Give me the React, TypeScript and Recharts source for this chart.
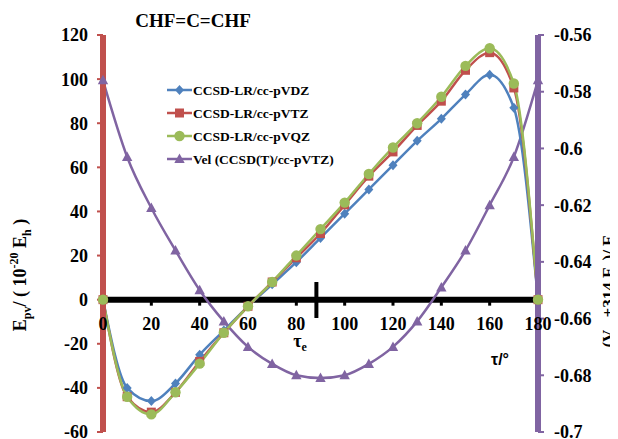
import React from 'react';
import { LineChart, Line, XAxis, YAxis, ReferenceLine, ReferenceDot } from 'recharts';

const tau = [0, 10, 20, 30, 40, 50, 60, 70, 80, 90, 100, 110, 120, 130, 140, 150, 160, 170, 180];
const vdz = [0, -40, -46, -38, -25, -14, -3, 7, 17, 28, 39, 50, 61, 72, 82, 93, 102, 87, 0];
const vtz = [0, -44, -51, -42, -28, -15, -3, 8, 19, 30, 43, 56, 67, 79, 90, 104, 112, 96, 0];
const vqz = [0, -44, -52, -42, -29, -15, -3, 8, 20, 32, 44, 57, 69, 80, 92, 106, 114, 98, 0];
const vel = [-0.576, -0.603, -0.621, -0.636, -0.65, -0.661, -0.67, -0.676, -0.68, -0.681, -0.68, -0.676, -0.67, -0.661, -0.649, -0.636, -0.62, -0.603, -0.576];

const seriesNames = ['CCSD-LR/cc-pVDZ', 'CCSD-LR/cc-pVTZ', 'CCSD-LR/cc-pVQZ', 'Vel (CCSD(T)/cc-pVTZ)'];
const seriesKeys = ['vdz', 'vtz', 'vqz', 'vel'];
const seriesColors = ['#4F81BD', '#C0504D', '#9BBB59', '#8064A2'];
const seriesMarkers = ['diamond', 'square', 'circle', 'triangle'];

const leftTicks = [-60, -40, -20, 0, 20, 40, 60, 80, 100, 120];
const rightTicks = [-0.7, -0.68, -0.66, -0.64, -0.62, -0.6, -0.58, -0.56];
const xTicks = [0, 20, 40, 60, 80, 100, 120, 140, 160, 180];
const tauE = 88.3;

const data = tau.map((t, i) => ({ tau: t, vdz: vdz[i], vtz: vtz[i], vqz: vqz[i], vel: vel[i] }));

const SERIF = 'Liberation Serif, Times New Roman, serif';
const SANS = 'Liberation Sans, Arial, sans-serif';

function Marker({ kind, cx, cy, color }: { kind: string; cx: number; cy: number; color: string }) {
  if (cx == null || cy == null || isNaN(cx) || isNaN(cy)) return null;
  if (kind === 'diamond') {
    return <path d={`M${cx},${cy - 5}L${cx + 4.5},${cy}L${cx},${cy + 5}L${cx - 4.5},${cy}Z`} fill={color} />;
  }
  if (kind === 'square') {
    return <rect x={cx - 4.5} y={cy - 4.5} width={9} height={9} fill={color} />;
  }
  if (kind === 'circle') {
    return <circle cx={cx} cy={cy} r={5.2} fill={color} />;
  }
  return <path d={`M${cx},${cy - 5.5}L${cx + 5.2},${cy + 4}L${cx - 5.2},${cy + 4}Z`} fill={color} />;
}

const fmtRight = (v: number) => String(Number(v.toFixed(2)));

export default function App() {
  const order = [3, 0, 1, 2];
  return (
    <div style={{ position: 'relative', width: 610, height: 431 }}>
      <LineChart width={610} height={431} data={data} margin={{ top: 27, right: 10, bottom: 7, left: 35 }}>
        <XAxis type="number" dataKey="tau" domain={[0, 180]} ticks={xTicks} hide />
        <YAxis
          yAxisId="left"
          orientation="left"
          width={60}
          domain={[-60, 120]}
          ticks={leftTicks}
          interval={0}
          axisLine={{ stroke: '#C0504D', strokeWidth: 6 }}
          tickLine={{ stroke: '#C0504D', strokeWidth: 2 }}
          tickSize={6}
          tickMargin={9}
          tick={{ fill: '#000', fontSize: 18, fontWeight: 'bold', fontFamily: SERIF }}
        />
        <YAxis
          yAxisId="right"
          orientation="right"
          width={70}
          domain={[-0.7, -0.56]}
          ticks={rightTicks}
          interval={0}
          tickFormatter={fmtRight}
          axisLine={{ stroke: '#8064A2', strokeWidth: 6 }}
          tickLine={{ stroke: '#8064A2', strokeWidth: 2 }}
          tickSize={6}
          tickMargin={10}
          tick={{ fill: '#000', fontSize: 18, fontWeight: 'bold', fontFamily: SERIF, textAnchor: 'start' }}
        />
        <ReferenceLine yAxisId="left" y={0} stroke="#000" strokeWidth={6} />
        <ReferenceLine
          yAxisId="left"
          segment={[{ x: tauE, y: 8 }, { x: tauE, y: -8.3 }]}
          stroke="#000"
          strokeWidth={4}
        />
        {xTicks.map((v) => (
          <ReferenceDot
            key={`xt-${v}`}
            yAxisId="left"
            x={v}
            y={0}
            r={0}
            ifOverflow="visible"
            shape={(p: any) => (
              <g>
                {v !== 0 && v !== 180 ? (
                  <line x1={p.cx} y1={p.cy} x2={p.cx} y2={p.cy + 6} stroke="#000" strokeWidth={3} />
                ) : null}
                <text
                  x={p.cx}
                  y={p.cy + 30}
                  textAnchor="middle"
                  fontSize={18}
                  fontWeight="bold"
                  fontFamily={SERIF}
                  fill="#000"
                >
                  {v}
                </text>
              </g>
            )}
          />
        ))}
        {order.map((i) => (
          <Line
            key={seriesKeys[i]}
            yAxisId={i === 3 ? 'right' : 'left'}
            dataKey={seriesKeys[i]}
            type="monotone"
            stroke={seriesColors[i]}
            strokeWidth={2.5}
            isAnimationActive={false}
            dot={(p: any) => (
              <Marker key={`${seriesKeys[i]}-${p.index}`} kind={seriesMarkers[i]} cx={p.cx} cy={p.cy} color={seriesColors[i]} />
            )}
            activeDot={false}
          />
        ))}
      </LineChart>
      <svg
        width={610}
        height={431}
        style={{ position: 'absolute', left: 0, top: 0, overflow: 'visible', pointerEvents: 'none' }}
      >
        <text x={185} y={18.5} textAnchor="middle" fontSize={19} fontWeight="bold" fontFamily={SERIF} fill="#000">
          CHF=C=CHF
        </text>
        <g transform="translate(18,267) rotate(-90)">
          <text textAnchor="middle" fontSize={18} fontWeight="bold" fontFamily={SERIF} fill="#000">
            E<tspan fontSize={12} dy={5}>pv</tspan>
            <tspan dy={-5}>/ ( 10</tspan>
            <tspan fontSize={12} dy={-8}>-20</tspan>
            <tspan dy={8}> E</tspan>
            <tspan fontSize={12} dy={5}>h</tspan>
            <tspan dy={-5}> )</tspan>
          </text>
        </g>
        <g transform="translate(606,280) rotate(-90)">
          <text textAnchor="middle" fontSize={17} fontWeight="bold" fontFamily={SERIF} fill="#000">
            (V<tspan fontSize={11} dy={5}>el</tspan>
            <tspan dy={-5}> +314 E</tspan>
            <tspan fontSize={11} dy={5}>h</tspan>
            <tspan dy={-5}>)/ E</tspan>
            <tspan fontSize={11} dy={5}>h</tspan>
          </text>
        </g>
        <text x={292} y={339} textAnchor="middle" fontSize={18} fontWeight="bold" fontFamily={SERIF} fill="#000">
          τ<tspan fontSize={12} dy={4}>e</tspan>
        </text>
        <text x={492} y={357} textAnchor="middle" fontSize={16} fontWeight="bold" fontFamily={SANS} fill="#000">
          τ/°
        </text>
        {seriesNames.map((name, i) => {
          const cy = 82 + i * 23;
          return (
            <g key={name}>
              <line x1={159} y1={cy} x2={184} y2={cy} stroke={seriesColors[i]} strokeWidth={2.5} />
              <Marker kind={seriesMarkers[i]} cx={171.5} cy={cy} color={seriesColors[i]} />
              <text x={185} y={cy + 4.5} fontSize={13.5} fontWeight="bold" fontFamily={SERIF} fill="#000">
                {name}
              </text>
            </g>
          );
        })}
      </svg>
    </div>
  );
}
